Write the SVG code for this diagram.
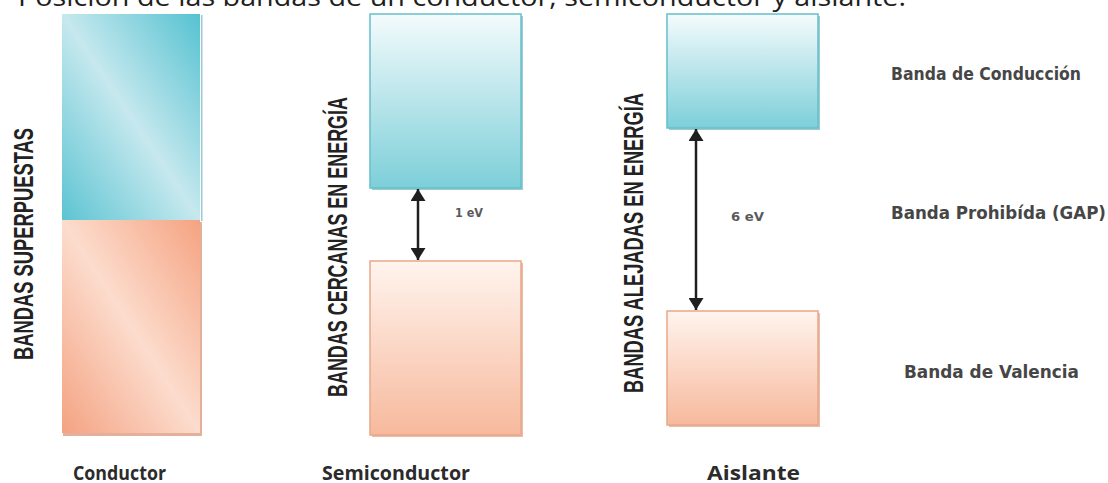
<svg xmlns="http://www.w3.org/2000/svg" width="1108" height="483" viewBox="0 0 1108 483">
  <defs>
    <style>
      .title { font-family: "Open Sans", "Liberation Sans", sans-serif; font-size: 25px; fill: #1e1e1e; }
      .axis { font-family: "Liberation Sans Narrow", "Liberation Sans", sans-serif; font-weight: bold; font-size: 27px; fill: #222; }
      .side { font-family: "DejaVu Sans", "Liberation Sans", sans-serif; font-weight: bold; font-size: 17px; fill: #464646; }
      .gap { font-family: "DejaVu Sans", "Liberation Sans", sans-serif; font-weight: bold; font-size: 12px; fill: #5a5a5a; }
      .name { font-family: "Open Sans", "Liberation Sans", sans-serif; font-weight: bold; font-size: 20px; fill: #2b2b2b; }
      .arrow { stroke: #1f1f1f; stroke-width: 2.5; fill: none; }
      .cb { stroke: #66bfca; stroke-width: 1.5; }
      .vb { stroke: #e7a888; stroke-width: 1.5; }
    </style>
    <!-- conductor: overlapping bands, mottled diagonal shading -->
    <linearGradient id="condBlue" x1="1" y1="0" x2="0" y2="1">
      <stop offset="0" stop-color="#55c2d1"/>
      <stop offset="0.5" stop-color="#c6e8ee"/>
      <stop offset="1" stop-color="#5cc4d2"/>
    </linearGradient>
    <linearGradient id="condOrange" x1="1" y1="0" x2="0" y2="1">
      <stop offset="0" stop-color="#f5a381"/>
      <stop offset="0.5" stop-color="#fcdccd"/>
      <stop offset="1" stop-color="#f4a282"/>
    </linearGradient>
    <!-- separated bands: light at the top, saturated at the bottom -->
    <linearGradient id="bandBlue" x1="0" y1="0" x2="0" y2="1">
      <stop offset="0" stop-color="#f4fbfc"/>
      <stop offset="1" stop-color="#7dcfd9"/>
    </linearGradient>
    <linearGradient id="bandOrange" x1="0" y1="0" x2="0" y2="1">
      <stop offset="0" stop-color="#fff4ee"/>
      <stop offset="1" stop-color="#f7b99d"/>
    </linearGradient>
    <marker id="head" viewBox="0 0 10 10" refX="10" refY="5" markerWidth="12" markerHeight="15" orient="auto-start-reverse" markerUnits="userSpaceOnUse" preserveAspectRatio="none">
      <path d="M0,0 L10,5 L0,10 Z" fill="#1f1f1f"/>
    </marker>
  </defs>

  <rect width="1108" height="483" fill="#ffffff"/>

  <text class="title" x="18" y="6" textLength="888" lengthAdjust="spacingAndGlyphs">Posición de las bandas de un conductor, semiconductor y aislante.</text>

  <!-- Conductor -->
  <g id="conductor">
    <rect x="63" y="222" width="139" height="214" fill="#d98f70" opacity="0.7"/>
    <rect x="201" y="15" width="1.5" height="206" fill="#5aaab5" opacity="0.6"/>
    <rect x="62" y="14" width="138" height="206" fill="url(#condBlue)"/>
    <rect x="62" y="220" width="138" height="213" fill="url(#condOrange)"/>
    <text class="axis" transform="translate(33,360) rotate(-90)" textLength="232" lengthAdjust="spacingAndGlyphs">BANDAS SUPERPUESTAS</text>
    <text class="name" x="73" y="480" textLength="93" lengthAdjust="spacingAndGlyphs">Conductor</text>
  </g>

  <!-- Semiconductor -->
  <g id="semiconductor">
    <rect x="372" y="16" width="151" height="174" fill="#5aaab5" opacity="0.6"/>
    <rect x="370" y="14" width="151" height="174" fill="url(#bandBlue)" class="cb"/>
    <rect x="372" y="263" width="151" height="174" fill="#d98f70" opacity="0.6"/>
    <rect x="370" y="261" width="151" height="174" fill="url(#bandOrange)" class="vb"/>
    <text class="axis" transform="translate(347,397) rotate(-90)" textLength="300" lengthAdjust="spacingAndGlyphs">BANDAS CERCANAS EN ENERGÍA</text>
    <text class="gap" x="455" y="217" textLength="28" lengthAdjust="spacingAndGlyphs">1 eV</text>
    <text class="name" x="322" y="480" textLength="148" lengthAdjust="spacingAndGlyphs">Semiconductor</text>
  </g>

  <!-- Aislante -->
  <g id="aislante">
    <rect x="669" y="16" width="151" height="114" fill="#5aaab5" opacity="0.6"/>
    <rect x="667" y="14" width="151" height="114" fill="url(#bandBlue)" class="cb"/>
    <rect x="669" y="313" width="151" height="114" fill="#d98f70" opacity="0.6"/>
    <rect x="667" y="311" width="151" height="114" fill="url(#bandOrange)" class="vb"/>
    <text class="axis" transform="translate(643,393) rotate(-90)" textLength="300" lengthAdjust="spacingAndGlyphs">BANDAS ALEJADAS EN ENERGÍA</text>
    <text class="gap" x="731" y="221" textLength="33" lengthAdjust="spacingAndGlyphs">6 eV</text>
    <text class="name" x="707" y="480" textLength="93" lengthAdjust="spacingAndGlyphs">Aislante</text>
  </g>

  <!-- Legend -->
  <g id="legend">
    <text class="side" x="891" y="80" textLength="190" lengthAdjust="spacingAndGlyphs">Banda de Conducción</text>
    <text class="side" x="891" y="219" textLength="215" lengthAdjust="spacingAndGlyphs">Banda Prohibída (GAP)</text>
    <text class="side" x="904" y="378" textLength="175" lengthAdjust="spacingAndGlyphs">Banda de Valencia</text>
  </g>

  <!-- Gap arrows -->
  <g id="connectors">
    <line class="arrow" x1="418" y1="189" x2="418" y2="260" marker-start="url(#head)" marker-end="url(#head)"/>
    <line class="arrow" x1="696" y1="129" x2="696" y2="310" marker-start="url(#head)" marker-end="url(#head)"/>
  </g>
</svg>
